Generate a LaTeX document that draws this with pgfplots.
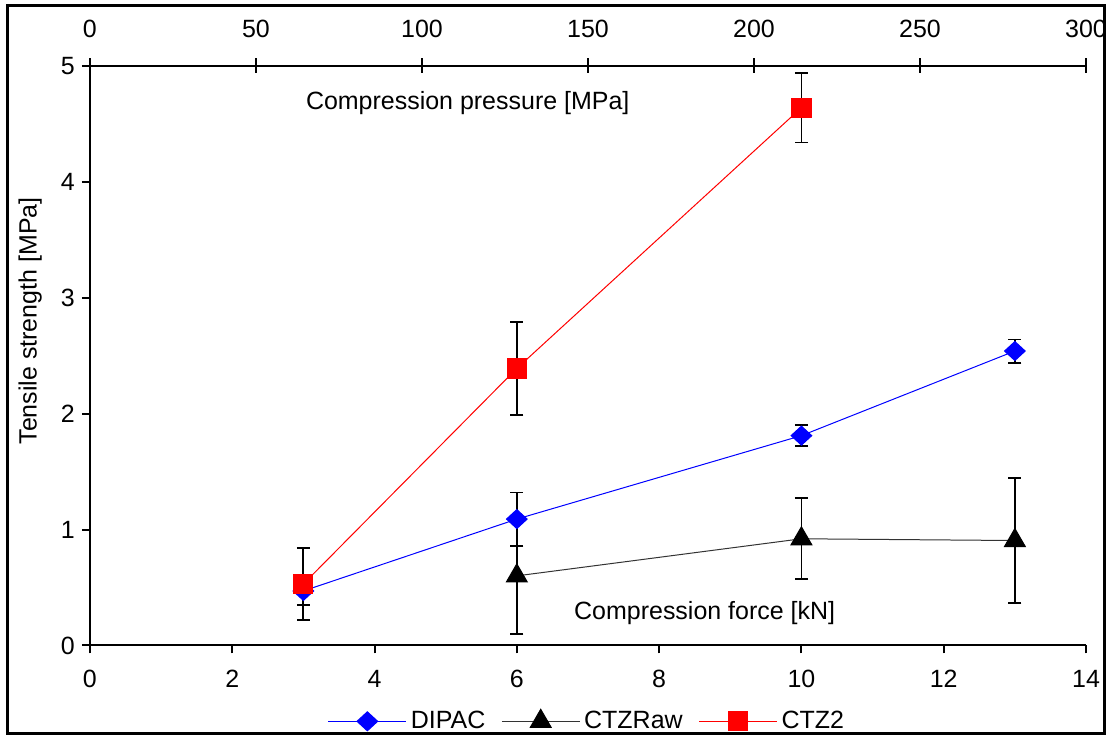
\documentclass[border=0pt]{standalone}
\usepackage{fontspec}
\setmainfont{Liberation Sans}
\usepackage{pgfplots}
\pgfplotsset{compat=1.18}

\pgfplotsset{
  errstyle/.style={
    error bars/.cd, y dir=both, y explicit,
    error bar style={line width=0.9pt, black, solid},
    error mark options={rotate=90, mark size=3.3pt, line width=0.9pt, black, solid},
  },
}

\begin{document}
\begin{tikzpicture}[font=\fontsize{12.5}{15}\selectfont]
\begin{axis}[
  name=main,
  scale only axis,
  width=498.5pt, height=290pt,
  xmin=0, xmax=14, ymin=0, ymax=5,
  xtick={0,2,...,14}, ytick={0,1,...,5},
  axis x line*=bottom, axis y line*=left,
  axis line style={line width=1pt},
  tick align=outside, major tick length=4pt,
  tick style={line width=1pt, black},
  /pgf/number format/assume math mode=true,
  ticklabel style={font=\fontsize{12.5}{15}\selectfont},
  xticklabel style={yshift=-5pt},
  ylabel={Tensile strength [MPa]},
  ylabel style={at={(axis description cs:-0.06,0.56)}, anchor=center},
  legend columns=3,
  legend style={at={(axis description cs:0.5,-0.131)}, anchor=center, draw=none,
    font=\fontsize{12.5}{15}\selectfont,
    /tikz/every even column/.append style={column sep=6pt}},
  legend image code/.code={\draw[#1, mark repeat=2, mark phase=2]
    plot coordinates {(0pt,0pt) (19.5pt,0pt) (39pt,0pt)};},
]
\addplot[blue, line width=0.5pt, mark=diamond*, mark size=4.75pt,
  mark options={xscale=1.45, fill=blue, draw=blue}, errstyle] coordinates {
  (3,0.47) +- (0,0.12)
  (6,1.09) +- (0,0.23)
  (10,1.81) +- (0,0.09)
  (13,2.54) +- (0,0.10)
};
\addlegendentry{DIPAC}
\addplot[black!80, line width=0.5pt, mark=triangle*, mark size=6pt,
  mark options={fill=black, draw=black}, errstyle] coordinates {
  (6,0.60) +- (0,0.50)
  (10,0.92) +- (0,0.35)
  (13,0.905) +- (0,0.54)
};
\addlegendentry{CTZRaw}
\addplot[red, line width=0.5pt, mark=square*, mark size=4.8pt,
  mark options={fill=red, draw=red}, errstyle] coordinates {
  (3,0.53) +- (0,0.31)
  (6,2.39) +- (0,0.40)
  (10,4.64) +- (0,0.30)
};
\addlegendentry{CTZ2}
\node at (axis cs:5.31,4.68) {Compression pressure [MPa]};
\node at (axis cs:8.64,0.28) {Compression force [kN]};
\end{axis}
\begin{axis}[
  scale only axis,
  width=498.5pt, height=290pt,
  xmin=0, xmax=300, ymin=0, ymax=5,
  xtick={0,50,...,300},
  axis x line*=top, axis y line=none,
  axis line style={line width=1pt},
  tick align=center, major tick length=7.5pt,
  tick style={line width=1pt, black},
  /pgf/number format/assume math mode=true,
  ticklabel style={font=\fontsize{12.5}{15}\selectfont},
  xticklabel style={yshift=7pt},
]
\end{axis}
\draw[line width=1.5pt] ([xshift=-41pt,yshift=-44pt]main.south west)
  rectangle ([xshift=9pt,yshift=30pt]main.north east);
\pgfresetboundingbox
\path ([xshift=-45pt,yshift=-45pt]main.south west)
  rectangle ([xshift=10.5pt,yshift=33pt]main.north east);
\end{tikzpicture}
\end{document}
